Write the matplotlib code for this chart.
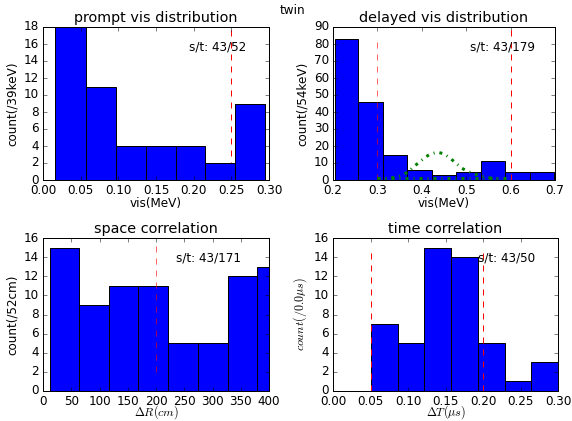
import numpy as np
import matplotlib
matplotlib.use('Agg')
import matplotlib.pyplot as plt

plt.style.use('classic')

# prompt vis distribution
prompt_edges = [0.0163, 0.0565, 0.0966, 0.1363, 0.176, 0.2153, 0.255, 0.2951]
prompt_counts = [18, 11, 4, 4, 4, 2, 9]

# delayed vis distribution
delayed_edges = [0.2037, 0.257, 0.312, 0.366, 0.4226, 0.478, 0.5336, 0.5876, 0.6438, 0.6985]
delayed_counts = [83, 46, 15, 6, 3, 5, 11, 5, 5]
fit_x = [0.30, 0.32, 0.34, 0.355, 0.37, 0.38, 0.395, 0.41, 0.42, 0.435, 0.45,
         0.465, 0.475, 0.49, 0.50, 0.515, 0.53, 0.55, 0.57]
fit_y = [0.3, 0.8, 1.6, 2.6, 4.9, 7.5, 10.6, 13.8, 15.3, 16.4, 15.4,
         12.6, 10.3, 7.0, 5.5, 3.8, 2.6, 1.4, 0.8]
base_x = [0.30, 0.60]
base_y = [1.0, 1.0]

# space correlation
space_edges = [11.8, 64.3, 116.8, 168.7, 221.8, 274.3, 326.8, 379.3, 431.8]
space_counts = [15, 9, 11, 11, 5, 5, 12, 13]

# time correlation
time_edges = [0.0505, 0.0864, 0.1218, 0.1577, 0.1936, 0.229, 0.2645, 0.3]
time_counts = [7, 5, 15, 14, 5, 1, 3]


def draw_hist(ax, edges, counts):
    edges = np.array(edges)
    ax.bar(edges[:-1], counts, width=np.diff(edges), align='edge',
           color='b', edgecolor='k', linewidth=1, zorder=2)


W, H = 572, 421
fig = plt.figure(figsize=(W / 72.0, H / 72.0), dpi=72, facecolor='white')


def box(l, r, t, b):
    return [l / W, 1 - b / H, (r - l) / W, (b - t) / H]


ax1 = fig.add_axes(box(43, 269, 27, 180))
ax2 = fig.add_axes(box(333, 555, 27, 180))
ax3 = fig.add_axes(box(43, 269, 238, 391))
ax4 = fig.add_axes(box(333, 558, 238, 391))

# prompt
draw_hist(ax1, prompt_edges, prompt_counts)
ax1.vlines(0.25, 0, 18, colors='r', linestyles='dashed', zorder=1)
ax1.set_xlim(0, 0.3)
ax1.set_ylim(0, 18)
ax1.set_xticks(np.arange(0, 0.31, 0.05))
ax1.set_yticks(range(0, 19, 2))
ax1.set_title('prompt vis distribution')
ax1.set_xlabel('vis(MeV)', labelpad=0)
ax1.set_ylabel('count(/39keV)')
ax1.text(0.646, 0.87, 's/t: 43/52', transform=ax1.transAxes, va='center')

# delayed
draw_hist(ax2, delayed_edges, delayed_counts)
ax2.vlines(0.3, 0, 83, colors='r', linestyles='dashed', alpha=0.6, zorder=3)
ax2.vlines(0.6, 0, 88.5, colors='r', linestyles='dashed', zorder=3)
ax2.plot(fit_x, fit_y, color='g', linestyle='-.', linewidth=3, zorder=4)
ax2.plot(base_x, base_y, color='g', linestyle='-.', linewidth=3, zorder=4)
ax2.set_xlim(0.2, 0.7)
ax2.set_ylim(0, 90)
ax2.set_xticks(np.arange(0.2, 0.71, 0.1))
ax2.set_yticks(range(0, 91, 10))
ax2.set_title('delayed vis distribution')
ax2.set_xlabel('vis(MeV)', labelpad=0)
ax2.set_ylabel('count(/54keV)')
ax2.text(0.617, 0.87, 's/t: 43/179', transform=ax2.transAxes, va='center')

# space
draw_hist(ax3, space_edges, space_counts)
ax3.vlines(200, 2, 15.6, colors='r', linestyles='dashed', alpha=0.6, zorder=3)
ax3.set_xlim(0, 400)
ax3.set_ylim(0, 16)
ax3.set_xticks(range(0, 401, 50))
ax3.set_yticks(range(0, 17, 2))
ax3.set_title('space correlation')
ax3.set_xlabel(r'$\Delta R(cm)$', va='center')
ax3.xaxis.set_label_coords(0.5, -21.0 / 153)
ax3.set_ylabel('count(/52cm)')
ax3.text(0.59, 0.87, 's/t: 43/171', transform=ax3.transAxes, va='center')

# time
draw_hist(ax4, time_edges, time_counts)
ax4.vlines([0.05, 0.2], 0, 14.7, colors='r', linestyles='dashed', zorder=3)
ax4.set_xlim(0, 0.3)
ax4.set_ylim(0, 16)
ax4.set_xticks(np.arange(0, 0.31, 0.05))
ax4.set_yticks(range(0, 17, 2))
ax4.set_title('time correlation')
ax4.set_xlabel(r'$\Delta T(\mu s)$', va='center')
ax4.xaxis.set_label_coords(0.5, -21.0 / 153)
ax4.set_ylabel(r'$count(/0.0\mu s)$')
ax4.text(0.646, 0.87, 's/t: 43/50', transform=ax4.transAxes, va='center')

fig.text(0.512, 0.976, 'twin', ha='center', va='center')

fig.savefig('out.png', dpi=72, facecolor='white')
